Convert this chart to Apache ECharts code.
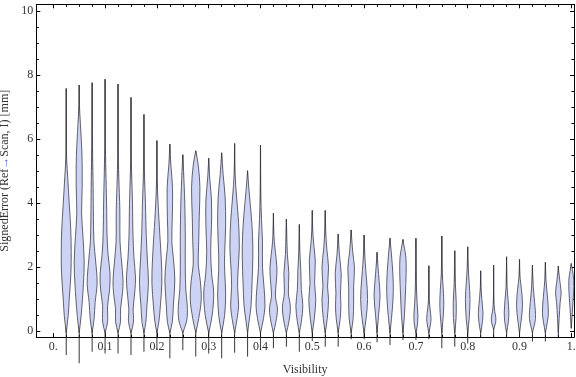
<!DOCTYPE html>
<html>
<head>
<meta charset="utf-8">
<script src="https://cdn.jsdelivr.net/npm/echarts@6/dist/echarts.min.js"></script>
<style>
html,body{margin:0;padding:0;background:#fff;}
#chart{width:576px;height:377px;}
</style>
</head>
<body>
<div id="chart"></div>
<script>
// ---- data ----
const violinX = [0.025,0.05,0.075,0.1,0.125,0.15,0.175,0.2,0.225,0.25,0.275,0.3,0.325,0.35,0.375,0.4,0.425,0.45,0.475,0.5,0.525,0.55,0.575,0.6,0.625,0.65,0.675,0.7,0.725,0.75,0.775,0.8,0.825,0.85,0.875,0.9,0.925,0.95,0.975,1.0];
const tailHigh = [7.59,7.70,7.77,7.88,7.73,7.31,6.78,5.96,5.85,5.52,5.64,5.41,5.58,5.87,5.02,5.82,3.69,3.51,3.34,3.78,3.78,3.04,3.17,3.01,2.47,2.91,2.87,2.91,2.05,2.98,2.52,2.64,1.89,2.07,2.33,2.25,2.07,2.16,2.04,2.12];
const tailLow = [-0.74,-1.0,-0.64,-0.69,-0.69,-0.74,-0.64,-0.58,-0.84,-0.58,-0.79,-0.69,-0.84,-0.67,-0.79,-0.58,-0.53,-0.48,-0.64,-0.3,-0.48,-0.48,-0.25,-0.25,-0.34,-0.43,-0.27,-0.27,-0.25,-0.53,-0.48,-0.38,-0.19,-0.17,-0.19,-0.17,-0.32,-0.32,-0.17,0.09];
// density profiles: [value, relative half-width] knots
const violinProfiles = [
 [[-0.05,0],[0.5,2],[1.0,3],[1.8,4.7],[2.5,5],[3.2,4.5],[4.0,3],[4.8,1.5],[5.4,0.4],[6.0,0.1],[7.59,0]],
 [[-0.05,0],[0.5,2],[1.5,4.3],[2.2,5],[3.0,3.7],[3.7,2.4],[4.5,3],[5.5,2.8],[6.5,1.2],[7.1,0.2],[7.70,0]],
 [[-0.05,0],[0.4,2],[0.9,3],[1.5,5],[2.2,3.5],[2.8,1.8],[3.5,1.3],[4.5,1],[5.5,0.5],[6.5,0.1],[7.77,0]],
 [[-0.05,0],[0.3,2.5],[0.8,2.5],[1.3,4.5],[1.8,5],[2.4,3],[3.0,2],[4.0,1.5],[5.0,0.8],[6.0,0.2],[7.88,0]],
 [[-0.05,0],[0.3,2.5],[0.7,2.5],[1.2,4.5],[1.6,5],[2.2,3.5],[2.8,2],[3.8,1.8],[4.8,0.8],[5.8,0.2],[7.73,0]],
 [[-0.05,0],[0.3,2.5],[0.7,2.2],[1.3,4],[1.7,4.5],[2.3,3],[3.0,2],[4.0,1.5],[5.0,0.6],[6.0,0.1],[7.31,0]],
 [[-0.05,0],[0.3,2],[0.8,3],[1.5,4.5],[2.2,3.5],[3.0,2.3],[4.0,1.5],[5.0,0.5],[6.78,0]],
 [[-0.05,0],[0.3,2],[0.8,3.5],[1.5,5],[2.2,4.5],[3.0,3],[4.0,1.2],[4.8,0.3],[5.96,0]],
 [[-0.05,0],[0.3,2.5],[0.8,3.5],[1.6,5],[2.3,3.5],[2.8,2],[3.6,2.5],[4.5,2.7],[5.2,1],[5.85,0]],
 [[-0.05,0],[0.35,4],[0.8,4.5],[1.3,3],[2.0,2.5],[3.0,2.5],[4.0,2],[5.0,0.8],[5.52,0]],
 [[-0.05,0],[0.4,3],[1.0,5.5],[1.6,4.5],[2.1,2.5],[2.8,3],[3.6,3.5],[4.5,4.2],[5.2,2.5],[5.64,0]],
 [[-0.05,0],[0.5,3.5],[1.2,5],[1.8,3],[2.5,2],[3.3,2.8],[4.1,2.8],[4.8,1],[5.41,0]],
 [[-0.05,0],[0.5,3],[1.2,4],[1.9,3],[2.4,3],[3.3,4],[4.2,3.5],[4.9,1.5],[5.58,0]],
 [[-0.05,0],[0.4,2.5],[0.8,4],[1.4,3],[1.9,3.5],[2.6,4.7],[3.4,4],[4.2,2],[4.9,0.5],[5.87,0]],
 [[-0.05,0],[0.3,1.5],[0.8,3.5],[1.5,4.5],[2.3,5.3],[3.0,5],[3.7,3.5],[4.4,1.5],[5.02,0]],
 [[-0.05,0],[0.4,3],[0.8,4.5],[1.4,3.5],[2.0,2],[2.8,2],[3.5,1],[4.3,0.3],[5.82,0]],
 [[-0.05,0],[0.3,2.5],[0.7,4],[1.1,2],[1.6,3],[2.0,3.5],[2.6,1.5],[3.0,0.5],[3.69,0]],
 [[-0.05,0],[0.3,2.5],[0.75,4],[1.2,2],[1.8,2.5],[2.4,1],[3.51,0]],
 [[-0.05,0],[0.3,2],[0.8,3.5],[1.3,2],[1.9,1.5],[2.5,0.5],[3.34,0]],
 [[-0.05,0],[0.4,2],[1.0,3.5],[1.5,2.3],[2.2,3],[2.7,1.5],[3.2,0.4],[3.78,0]],
 [[-0.05,0],[0.4,2],[1.0,3.3],[1.4,2.3],[2.0,3.3],[2.6,1.5],[3.2,0.4],[3.78,0]],
 [[-0.05,0],[0.4,2],[0.8,2.7],[1.2,2.3],[1.8,3],[2.4,1.2],[3.04,0]],
 [[-0.05,0],[0.4,2],[0.9,2.5],[1.4,2.5],[2.0,3.3],[2.5,1.5],[3.17,0]],
 [[-0.05,0],[0.4,2],[1.0,3.5],[1.6,2.5],[2.2,1],[3.01,0]],
 [[-0.05,0],[0.5,1.5],[1.1,3],[1.6,2],[2.0,1],[2.47,0]],
 [[-0.05,0],[0.4,1.5],[1.0,3],[1.5,3.3],[2.2,2],[2.7,0.6],[2.91,0]],
 [[-0.05,0],[0.5,1.5],[1.2,2.5],[1.8,3.2],[2.3,3],[2.6,1.5],[2.87,0]],
 [[-0.05,0],[0.2,1.5],[0.5,2],[0.9,1.2],[1.5,0.5],[2.91,0]],
 [[-0.05,0],[0.2,1.5],[0.4,2.2],[0.7,1.2],[1.0,0.4],[2.05,0]],
 [[-0.05,0],[0.3,1],[0.8,2],[1.3,1.5],[1.8,0.5],[2.98,0]],
 [[-0.05,0],[0.4,1.3],[0.9,1.5],[1.5,0.6],[2.52,0]],
 [[-0.05,0],[0.4,1.5],[1.0,2.3],[1.5,1.5],[2.0,0.5],[2.64,0]],
 [[-0.05,0],[0.3,1.8],[0.6,2.3],[1.0,1.2],[1.4,0.3],[1.89,0]],
 [[0.05,0],[0.35,2.3],[0.7,0.8],[1.0,0.2],[2.07,0]],
 [[-0.05,0],[0.3,1.8],[0.6,2.3],[1.0,1.5],[1.4,0.5],[2.33,0]],
 [[-0.05,0],[0.3,1.5],[0.8,3],[1.3,2],[1.7,0.5],[2.25,0]],
 [[-0.05,0],[0.4,3],[0.9,2.2],[1.4,0.8],[2.07,0]],
 [[-0.05,0],[0.3,2],[0.6,3],[1.1,2],[1.6,0.6],[2.16,0]],
 [[-0.05,0],[0.4,0.8],[0.9,1.8],[1.2,2.8],[1.5,1.8],[1.9,0.3],[2.04,0]],
 [[0.1,0],[0.6,1],[1.2,2.3],[1.6,2.5],[1.9,1.2],[2.12,0]]
];
const xTickValues = [0,0.1,0.2,0.3,0.4,0.5,0.6,0.7,0.8,0.9,1.0];
const xTickLabels = ['0.','0.1','0.2','0.3','0.4','0.5','0.6','0.7','0.8','0.9','1.'];
const xMinorTicks = [0,0.025,0.05,0.075,0.1,0.125,0.15,0.175,0.2,0.225,0.25,0.275,0.3,0.325,0.35,0.375,0.4,0.425,0.45,0.475,0.5,0.525,0.55,0.575,0.6,0.625,0.65,0.675,0.7,0.725,0.75,0.775,0.8,0.825,0.85,0.875,0.9,0.925,0.95,0.975,1.0];
const yTickValues = [0,2,4,6,8,10];
const yTickLabels = ['0','2','4','6','8','10'];
const yMinorTicks = [0,0.5,1,1.5,2,2.5,3,3.5,4,4.5,5,5.5,6,6.5,7,7.5,8,8.5,9,9.5,10];
const xName = 'Visibility';
const yName = 'SignedError (Ref{a|→}Scan, I) [mm]';

// ---- chart ----
const FONT = 'Liberation Serif';
const TXT = '#333';
const X_MIN = -0.0328, X_MAX = 1.0052, Y_MIN = -0.18, Y_MAX = 10.22;
const SLOT = 0.025, WIDTH_UNIT = 13;
const gridRect = {left: 36.3, right: 2, top: 4.3, bottom: 39.9, outerBoundsMode: 'none', containLabel: false};

function xAxisDef(gridIndex, pos, ticks, len, withLabels, withLine) {
  const a = {
    type: 'value', gridIndex, position: pos, min: X_MIN, max: X_MAX,
    splitLine: {show: false},
    axisLine: {show: withLine, onZero: false, lineStyle: {color: '#000', width: 1}},
    axisTick: {show: true, inside: true, length: len, customValues: ticks, lineStyle: {color: '#000', width: 1}},
    axisLabel: {show: false}
  };
  if (withLabels) {
    a.axisLabel = {show: true, customValues: xTickValues, margin: 4,
      fontFamily: FONT, fontSize: 12, color: TXT,
      formatter: v => { const i = xTickValues.findIndex(t => Math.abs(t - v) < 1e-6); return i >= 0 ? xTickLabels[i] : ''; }};
    a.name = xName; a.nameLocation = 'middle'; a.nameGap = 27;
    a.nameTextStyle = {fontFamily: FONT, fontSize: 12, color: TXT};
  }
  return a;
}
function yAxisDef(gridIndex, pos, ticks, len, withLabels, withLine) {
  const a = {
    type: 'value', gridIndex, position: pos, min: Y_MIN, max: Y_MAX,
    splitLine: {show: false},
    axisLine: {show: withLine, onZero: false, lineStyle: {color: '#000', width: 1}},
    axisTick: {show: true, inside: true, length: len, customValues: ticks, lineStyle: {color: '#000', width: 1}},
    axisLabel: {show: false}
  };
  if (withLabels) {
    a.axisLabel = {show: true, customValues: yTickValues, margin: 3,
      fontFamily: FONT, fontSize: 12, color: TXT,
      formatter: v => { const i = yTickValues.findIndex(t => Math.abs(t - v) < 1e-6); return i >= 0 ? yTickLabels[i] : ''; }};
    a.name = yName; a.nameLocation = 'middle'; a.nameGap = 19; a.nameRotate = 90;
    a.nameTextStyle = {fontFamily: FONT, fontSize: 12, color: TXT,
      rich: {a: {fontFamily: FONT, fontSize: 12, color: '#3c64c8'}}};
  }
  return a;
}

const data = violinX.map((x, i) => [x, tailLow[i], tailHigh[i], i]);

const option = {
  animation: false,
  backgroundColor: '#fff',
  grid: [Object.assign({}, gridRect), Object.assign({}, gridRect)],
  xAxis: [
    xAxisDef(0, 'bottom', xTickValues, 4, true, true),
    xAxisDef(0, 'top', xTickValues, 4, false, true),
    xAxisDef(1, 'bottom', xMinorTicks, 2.5, false, false),
    xAxisDef(1, 'top', xMinorTicks, 2.5, false, false)
  ],
  yAxis: [
    yAxisDef(0, 'left', yTickValues, 4, true, true),
    yAxisDef(0, 'right', yTickValues, 4, false, true),
    yAxisDef(1, 'left', yMinorTicks, 2.5, false, false),
    yAxisDef(1, 'right', yMinorTicks, 2.5, false, false)
  ],
  series: [{
    type: 'custom',
    xAxisIndex: 0, yAxisIndex: 0,
    clip: false,
    data: data,
    encode: {x: 0, y: [1, 2]},
    renderItem: function (params, api) {
      const x = api.value(0), lo = api.value(1), hi = api.value(2), idx = api.value(3);
      const pLo = api.coord([x, lo]), pHi = api.coord([x, hi]);
      const slotPx = api.size([SLOT, 0])[0];
      const f = slotPx / WIDTH_UNIT;
      const prof = violinProfiles[idx];
      const right = prof.map(k => [pLo[0] + k[1] * f, api.coord([x, k[0]])[1]]);
      const left = prof.slice().reverse().map(k => [pLo[0] - k[1] * f, api.coord([x, k[0]])[1]]);
      return {
        type: 'group',
        children: [
          {type: 'line', shape: {x1: pLo[0], y1: pLo[1], x2: pHi[0], y2: pHi[1]},
           style: {stroke: 'rgba(40,40,40,0.85)', lineWidth: 1.1}},
          {type: 'polygon', shape: {points: right.concat(left), smooth: 0.35},
           style: {fill: 'rgb(205,211,245)', stroke: 'rgba(55,55,65,0.85)', lineWidth: 0.9}}
        ]
      };
    }
  }]
};

const chart = echarts.init(document.getElementById('chart'), null, {renderer: 'canvas'});
chart.setOption(option);
</script>
</body>
</html>
